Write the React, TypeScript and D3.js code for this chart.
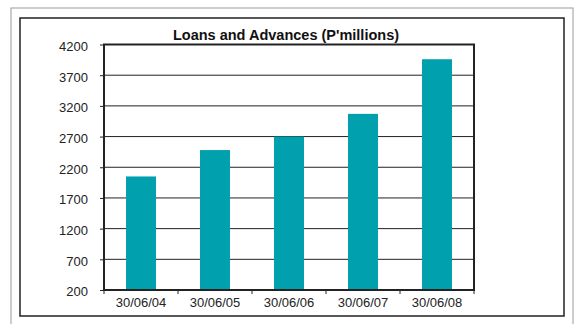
import React, { useEffect, useRef } from "react";
import * as d3 from "d3";

const categories = ["30/06/04", "30/06/05", "30/06/06", "30/06/07", "30/06/08"];
const values = [2050, 2480, 2700, 3070, 3960];
const yTicks = [200, 700, 1200, 1700, 2200, 2700, 3200, 3700, 4200];
const title = "Loans and Advances (P'millions)";

export default function App() {
  const ref = useRef<SVGSVGElement | null>(null);
  useEffect(() => {
    const svg = d3.select(ref.current);
    svg.selectAll("*").remove();
    const left = 104, right = 474, top = 44.5, bottom = 290;
    const font = "'Liberation Sans', Arial, sans-serif";

    // outer frames
    svg.append("rect").attr("x", 11).attr("y", 8).attr("width", 562).attr("height", 330)
      .attr("fill", "white").attr("stroke", "#9a9a9a").attr("stroke-width", 1);
    svg.append("rect").attr("x", 20).attr("y", 18).attr("width", 544).attr("height", 298)
      .attr("fill", "white").attr("stroke", "#222").attr("stroke-width", 1.5);

    const x = d3.scaleBand<string>().domain(categories).range([left, right]).paddingInner(0.595).paddingOuter(0.2975);
    const y = d3.scaleLinear().domain([200, 4200]).range([bottom, top]);

    // gridlines
    svg.append("g").selectAll("line").data(yTicks).join("line")
      .attr("x1", left).attr("x2", right)
      .attr("y1", (d) => y(d)).attr("y2", (d) => y(d))
      .attr("stroke", "#222").attr("stroke-width", 1);

    // bars
    svg.append("g").selectAll("rect").data(values).join("rect")
      .attr("x", (_, i) => x(categories[i])!)
      .attr("width", x.bandwidth())
      .attr("y", (d) => y(d))
      .attr("height", (d) => y(200) - y(d))
      .attr("fill", "#00A0AF");

    // plot frame
    svg.append("rect").attr("x", left).attr("y", top).attr("width", right - left).attr("height", bottom - top)
      .attr("fill", "none").attr("stroke", "#222").attr("stroke-width", 2);

    // y axis
    const yAxis = svg.append("g").attr("transform", `translate(${left},0)`)
      .call(d3.axisLeft(y).tickValues(yTicks).tickSize(4).tickPadding(12).tickFormat(d3.format("d")));
    yAxis.select(".domain").remove();
    yAxis.selectAll("line").attr("stroke", "#222");
    yAxis.selectAll("text").attr("font-family", font).attr("font-size", 13).attr("fill", "#222").attr("dy", "0.45em");

    // x axis
    const step = x.step();
    const bounds = d3.range(categories.length + 1).map((i) => left + i * step);
    svg.append("g").selectAll("line").data(bounds).join("line")
      .attr("x1", (d) => d).attr("x2", (d) => d)
      .attr("y1", bottom).attr("y2", bottom + 4)
      .attr("stroke", "#222").attr("stroke-width", 1);
    svg.append("g").selectAll("text").data(categories).join("text")
      .attr("x", (d) => x(d)! + x.bandwidth() / 2)
      .attr("y", bottom + 17)
      .attr("text-anchor", "middle")
      .attr("font-family", font).attr("font-size", 13).attr("fill", "#222")
      .text((d) => d);

    // title
    svg.append("text").attr("x", 286).attr("y", 40).attr("text-anchor", "middle")
      .attr("font-family", font).attr("font-size", 14.5).attr("font-weight", "bold").attr("fill", "#111")
      .text(title);
  }, []);
  return (
    <svg ref={ref} width={574} height={324}
      style={{ position: "absolute", left: 0, top: 0, display: "block", background: "white" }} />
  );
}
